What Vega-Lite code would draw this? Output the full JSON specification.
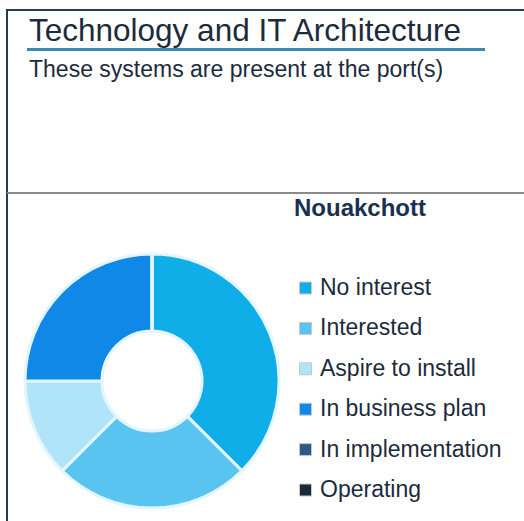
{
  "$schema": "https://vega.github.io/schema/vega-lite/v6.json",
  "width": 520,
  "height": 514,
  "autosize": {"type": "none"},
  "padding": {"left": 7, "top": 10, "right": 0, "bottom": 0},
  "background": "white",
  "config": {
    "font": "Liberation Sans",
    "view": {"stroke": "#2a3a4a", "strokeWidth": 2}
  },
  "title": {
    "text": "Technology and IT Architecture",
    "subtitle": "These systems are present at the port(s)",
    "anchor": "start",
    "frame": "group",
    "orient": "top",
    "offset": -72,
    "dx": 22,
    "fontSize": 31.5,
    "fontWeight": "normal",
    "color": "#1c2b3c",
    "subtitleFontSize": 23,
    "subtitleColor": "#1c2b3c",
    "subtitlePadding": 12
  },
  "data": {
    "values": [
      {"status": "No interest", "systems": 3, "rank": 1},
      {"status": "Interested", "systems": 2, "rank": 2},
      {"status": "Aspire to install", "systems": 1, "rank": 3},
      {"status": "In business plan", "systems": 2, "rank": 4},
      {"status": "In implementation", "systems": 0, "rank": 5},
      {"status": "Operating", "systems": 0, "rank": 6}
    ]
  },
  "layer": [
    {
      "data": {"values": [{}]},
      "mark": {"type": "rule", "color": "#3a8ab4", "strokeWidth": 3},
      "encoding": {
        "x": {"value": 20},
        "x2": {"value": 478},
        "y": {"value": 39.5}
      }
    },
    {
      "data": {"values": [{}]},
      "mark": {"type": "rule", "color": "#8a8a8a", "strokeWidth": 2},
      "encoding": {
        "x": {"value": 0},
        "x2": {"value": 520},
        "y": {"value": 183}
      }
    },
    {
      "mark": {"type": "arc", "innerRadius": 50, "outerRadius": 127, "stroke": "#e4f5fd", "strokeWidth": 3},
      "encoding": {
        "x": {"value": 145},
        "y": {"value": 371},
        "theta": {"field": "systems", "type": "quantitative", "stack": true},
        "order": {"field": "rank", "type": "quantitative"},
        "color": {
          "field": "status",
          "type": "nominal",
          "sort": ["No interest", "Interested", "Aspire to install", "In business plan", "In implementation", "Operating"],
          "scale": {
            "domain": ["No interest", "Interested", "Aspire to install", "In business plan", "In implementation", "Operating"],
            "range": ["#10aee8", "#5ac4f0", "#b0e4f8", "#1088e8", "#2a5a8a", "#1a2a3a"]
          },
          "legend": {
            "title": "Nouakchott",
            "orient": "none",
            "legendX": 287,
            "legendY": 187,
            "titleFontSize": 24,
            "titleFontWeight": "bold",
            "titleColor": "#1a3050",
            "titlePadding": 55.5,
            "labelFontSize": 23,
            "labelColor": "#1c2b3c",
            "labelOffset": 3,
            "labelLimit": 300,
            "symbolType": "square",
            "symbolSize": 144,
            "symbolStrokeColor": "#c8c8c8",
            "symbolStrokeWidth": 1,
            "rowPadding": 16.4
          }
        }
      }
    }
  ]
}
